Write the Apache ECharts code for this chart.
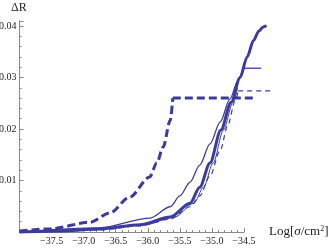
<!DOCTYPE html>
<html><head><meta charset="utf-8">
<script src="https://cdn.jsdelivr.net/npm/echarts@6/dist/echarts.min.js"></script>
<style>html,body{margin:0;padding:0;background:#fff}#c{width:332px;height:250px}</style>
</head><body><div id="c"></div>
<script>
// x values: Log[sigma/cm^2]; y values: Delta R
const thickSolidX = [-38.0, -37.37, -36.75, -36.12, -35.65, -35.34, -35.19, -35.03, -34.86, -34.70, -34.56, -34.45, -34.35, -34.27, -34.20, -34.15];
const thickSolidY = [0.0, 0.0002, 0.0006, 0.0014, 0.0029, 0.0056, 0.0087, 0.0134, 0.0198, 0.0252, 0.0300, 0.0340, 0.0372, 0.0390, 0.0398, 0.0401];

const thinSolidX = [-38.0, -36.75, -35.97, -35.65, -35.50, -35.34, -35.19, -35.03, -34.87, -34.72, -34.59, -34.51];
const thinSolidY = [0.0, 0.0008, 0.0027, 0.0049, 0.0070, 0.0097, 0.0130, 0.0171, 0.0214, 0.0258, 0.0295, 0.0318];
const thinSolidFlatX = [-34.51, -34.23];
const thinSolidFlatY = [0.0318, 0.0318];

const thinSolid2X = [-38.0, -36.70, -36.05, -35.58, -35.28, -35.13, -34.98, -34.82, -34.67, -34.60];
const thinSolid2Y = [0.0, 0.0006, 0.0014, 0.0029, 0.0056, 0.0087, 0.0134, 0.0198, 0.0252, 0.0280];

const thinDashX = [-38.0, -36.75, -36.12, -35.65, -35.34, -35.19, -35.03, -34.87, -34.75, -34.64, -34.59];
const thinDashY = [0.0, 0.0004, 0.0012, 0.0025, 0.0049, 0.0070, 0.0109, 0.0159, 0.0208, 0.0254, 0.0274];
const thinDashFlatX = [-34.59, -34.06];
const thinDashFlatY = [0.0274, 0.0274];

const thickDashX = [-38.0, -37.53, -36.90, -36.59, -36.28, -35.97, -35.86, -35.76, -35.65, -35.61];
const thickDashY = [0.0002, 0.0006, 0.0019, 0.0037, 0.0068, 0.0107, 0.0134, 0.0165, 0.0217, 0.0260];
const thickDashFlatX = [-35.61, -34.30];
const thickDashFlatY = [0.0260, 0.0260];

const xTickValues = [-37.5, -37.0, -36.5, -36.0, -35.5, -35.0, -34.5];
const yTickValues = [0.01, 0.02, 0.03, 0.04];

const C = '#3b3b9e';
const AX = '#8a8a8a';
const pair = (xs, ys) => xs.map((x, i) => [x, ys[i]]);
function line(xs, ys, w, dash, smooth) {
  return {
    type: 'line', xAxisIndex: 1, yAxisIndex: 1, data: pair(xs, ys), symbol: 'none', clip: false,
    smooth: smooth ? 0.3 : false, smoothMonotone: 'x',
    lineStyle: { color: C, width: w, type: dash || 'solid', cap: 'butt' },
    silent: true, animation: false
  };
}
const chart = echarts.init(document.getElementById('c'), null, { renderer: 'canvas' });
const fmtX = v => {
  const r = Math.round(v * 10) / 10;
  if (!xTickValues.some(t => Math.abs(t - r) < 1e-6)) return '';
  return '\u2212' + Math.abs(r).toFixed(1);
};
const fmtY = v => {
  const r = Math.round(v * 1000) / 1000;
  if (!yTickValues.some(t => Math.abs(t - r) < 1e-9)) return '';
  return r.toFixed(2);
};
// pixel scale: x 64.1 px/unit from -38 at 19.6; y 5150 px/unit from 0 at 232
chart.setOption({
  animation: false,
  grid: [
    { left: 19.6, right: 88, top: 20.85, bottom: 18, outerBoundsMode: 'none', containLabel: false },
    { left: 19.6, right: 56.0, top: 0.25, bottom: 18, outerBoundsMode: 'none', containLabel: false }
  ],
  xAxis: [{
    type: 'value', gridIndex: 0, min: -38, max: -34.46 - 2.5 / 64.1, interval: 0.5,
    axisLine: { onZero: false, lineStyle: { color: AX, width: 1 } },
    axisTick: { inside: true, length: 4, lineStyle: { color: AX } },
    minorTick: { show: true, splitNumber: 5, length: 2, lineStyle: { color: AX } },
    splitLine: { show: false },
    axisLabel: { formatter: fmtX, color: '#222', fontFamily: 'Liberation Serif', fontSize: 10, margin: 4, showMinLabel: false, showMaxLabel: false }
  }, {
    type: 'value', gridIndex: 1, min: -38, max: -34.0, show: false
  }],
  yAxis: [{
    type: 'value', gridIndex: 0, min: 0, max: 0.041, interval: 0.01,
    axisLine: { show: true, lineStyle: { color: AX, width: 1 } },
    axisTick: { show: true, inside: true, length: 4, lineStyle: { color: AX } },
    minorTick: { show: true, splitNumber: 5, length: 2, lineStyle: { color: AX } },
    splitLine: { show: false },
    axisLabel: { formatter: fmtY, color: '#222', fontFamily: 'Liberation Serif', fontSize: 10, margin: 3, showMinLabel: false, showMaxLabel: false }
  }, {
    type: 'value', gridIndex: 1, min: 0, max: 0.045, show: false
  }],
  graphic: [
    { type: 'text', left: 11, top: 2, style: { text: '\u0394R', fontFamily: 'Liberation Serif', fontSize: 12, fill: '#222' } },
    { type: 'text', left: 269, top: 225, style: {
      text: 'Log[{i|\u03c3}/cm{s|2}]', fontFamily: 'Liberation Serif', fontSize: 13, fill: '#222',
      rich: { i: { fontStyle: 'italic', fontFamily: 'Liberation Serif', fontSize: 13, fill: '#222' },
              s: { fontSize: 8, fontFamily: 'Liberation Serif', verticalAlign: 'top', padding: [0, 0, 6, 0], fill: '#222' } }
    } }
  ],
  series: [
    line(thickDashX, thickDashY, 3, [8, 4], true),
    line(thickDashFlatX, thickDashFlatY, 3, [8, 4], false),
    line(thinDashX, thinDashY, 1.2, [5, 4], true),
    line(thinDashFlatX, thinDashFlatY, 1.2, [5, 4], false),
    line(thinSolidX, thinSolidY, 1.3, 'solid', true),
    line(thinSolidFlatX, thinSolidFlatY, 1.3, 'solid', false),
    line(thinSolid2X, thinSolid2Y, 1.0, 'solid', true),
    line(thickSolidX, thickSolidY, 3, 'solid', true)
  ]
});
</script></body></html>
